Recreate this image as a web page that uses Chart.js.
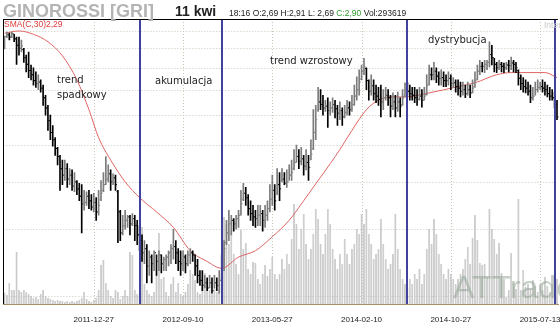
<!DOCTYPE html>
<html>
<head>
<meta charset="utf-8">
<script src="https://cdn.jsdelivr.net/npm/chart.js@4.4.1/dist/chart.umd.min.js"></script>
<style>
  html, body { margin: 0; padding: 0; background: #fff; overflow: hidden; }
  #wrap { position: relative; width: 560px; height: 322px; }
</style>
</head>
<body>
<div id="wrap"><canvas id="chart"></canvas></div>
<script>
// weekly bars, first one = 11 kwi 2011
const opens = [
  2.69, 2.90, 2.93, 2.89, 2.95, 2.86, 2.75, 2.70, 2.68, 2.55,
  2.45, 2.36, 2.30, 2.22, 2.18, 2.20, 2.12, 2.00, 1.88, 1.74,
  1.62, 1.55, 1.47, 1.40, 1.30, 1.25, 1.30, 1.22, 1.25, 1.17,
  1.20, 1.15, 1.10, 1.05, 1.06, 1.10, 1.07, 1.03, 1.06, 1.00,
  1.08, 1.14, 1.18, 1.22, 1.26, 1.20, 1.23, 1.13, 1.00, 0.88,
  0.92, 0.95, 0.97, 0.93, 0.96, 0.92, 0.87, 0.84, 0.78, 0.80,
  0.72, 0.76, 0.73, 0.78, 0.74, 0.77, 0.73, 0.75, 0.76, 0.78,
  0.80, 0.81, 0.78, 0.74, 0.73, 0.76, 0.73, 0.77, 0.78, 0.77,
  0.72, 0.68, 0.66, 0.64, 0.65, 0.63, 0.65, 0.62, 0.65, 0.64,
  0.66, 0.73, 0.83, 0.88, 0.93, 0.95, 0.93, 0.96, 0.98, 1.08,
  1.12, 1.09, 1.02, 0.99, 0.97, 0.96, 0.98, 0.99, 0.95, 0.98,
  1.02, 1.08, 1.14, 1.12, 1.18, 1.21, 1.22, 1.19, 1.20, 1.25,
  1.30, 1.35, 1.40, 1.36, 1.38, 1.32, 1.35, 1.31, 1.47, 1.62,
  1.86, 1.95, 1.92, 1.88, 1.90, 1.85, 1.88, 1.92, 1.87, 1.82,
  1.85, 1.78, 1.83, 1.88, 1.86, 1.92, 2.02, 2.10, 2.24, 2.35,
  2.39, 2.22, 2.08, 2.15, 2.05, 2.02, 1.98, 1.95, 2.00, 2.03,
  2.00, 1.90, 1.95, 1.88, 1.95, 1.92, 2.02, 2.10, 2.08, 2.05,
  2.03, 2.00, 1.98, 2.02, 1.97, 2.04, 2.17, 2.30, 2.30, 2.35,
  2.28, 2.25, 2.26, 2.22, 2.22, 2.25, 2.18, 2.19, 2.14, 2.12,
  2.08, 2.10, 2.05, 2.10, 2.06, 2.14, 2.24, 2.35, 2.42, 2.42,
  2.45, 2.48, 2.60, 2.55, 2.45, 2.40, 2.45, 2.42, 2.40, 2.44,
  2.43, 2.47, 2.45, 2.36, 2.25, 2.18, 2.14, 2.12, 2.08, 2.00,
  2.02, 2.10, 2.13, 2.14, 2.12, 2.10, 2.05, 2.02, 2.00, 1.92
];
const highs = [
  2.91, 2.98, 2.96, 2.98, 2.94, 2.89, 2.89, 2.84, 2.70, 2.59,
  2.64, 2.44, 2.40, 2.34, 2.30, 2.23, 2.16, 2.03, 1.91, 1.80,
  1.69, 1.57, 1.48, 1.41, 1.37, 1.37, 1.34, 1.30, 1.29, 1.27,
  1.21, 1.19, 1.18, 1.14, 1.13, 1.14, 1.11, 1.12, 1.09, 1.14,
  1.21, 1.27, 1.40, 1.33, 1.29, 1.26, 1.25, 1.14, 1.01, 0.98,
  1.01, 0.98, 0.98, 0.99, 0.98, 0.95, 0.92, 0.87, 0.84, 0.82,
  0.79, 0.77, 0.79, 0.77, 0.79, 0.77, 0.76, 0.77, 0.79, 0.82,
  0.90, 0.84, 0.80, 0.79, 0.79, 0.77, 0.79, 0.80, 0.79, 0.77,
  0.75, 0.70, 0.70, 0.68, 0.67, 0.68, 0.67, 0.68, 0.67, 0.70,
  0.77, 0.84, 0.95, 1.01, 0.98, 0.96, 0.98, 1.01, 1.14, 1.19,
  1.16, 1.11, 1.07, 1.04, 1.01, 1.04, 1.04, 1.01, 1.04, 1.07,
  1.18, 1.25, 1.18, 1.30, 1.27, 1.30, 1.27, 1.29, 1.33, 1.37,
  1.46, 1.50, 1.46, 1.48, 1.41, 1.46, 1.41, 1.55, 1.86, 1.91,
  2.13, 2.10, 2.03, 1.97, 2.00, 1.95, 2.00, 1.97, 1.91, 1.95,
  1.88, 1.91, 1.97, 1.95, 2.03, 2.16, 2.27, 2.37, 2.44, 2.54,
  2.40, 2.23, 2.30, 2.23, 2.16, 2.13, 2.16, 2.10, 2.13, 2.10,
  2.03, 2.06, 2.03, 2.07, 2.00, 2.10, 2.19, 2.19, 2.16, 2.13,
  2.13, 2.10, 2.13, 2.10, 2.13, 2.30, 2.44, 2.40, 2.48, 2.40,
  2.34, 2.37, 2.34, 2.30, 2.34, 2.30, 2.26, 2.23, 2.23, 2.20,
  2.20, 2.16, 2.20, 2.16, 2.23, 2.34, 2.44, 2.51, 2.48, 2.51,
  2.51, 2.81, 2.75, 2.54, 2.48, 2.51, 2.48, 2.47, 2.48, 2.51,
  2.56, 2.51, 2.48, 2.37, 2.30, 2.26, 2.23, 2.20, 2.16, 2.13,
  2.20, 2.23, 2.20, 2.23, 2.20, 2.16, 2.13, 2.10, 2.07, 1.97
];
const lows = [
  2.69, 2.88, 2.84, 2.88, 2.81, 2.45, 2.59, 2.64, 2.48, 2.34,
  2.26, 2.23, 2.16, 2.13, 2.10, 2.07, 1.91, 1.80, 1.64, 1.55,
  1.49, 1.41, 1.33, 1.14, 1.18, 1.21, 1.16, 1.18, 1.14, 1.13,
  1.11, 1.07, 0.88, 1.01, 1.04, 1.02, 1.01, 1.00, 0.95, 0.98,
  1.07, 1.13, 1.18, 1.20, 1.14, 1.18, 1.14, 0.83, 0.84, 0.87,
  0.90, 0.91, 0.87, 0.92, 0.84, 0.82, 0.79, 0.74, 0.73, 0.65,
  0.68, 0.65, 0.70, 0.68, 0.70, 0.69, 0.70, 0.70, 0.72, 0.73,
  0.75, 0.73, 0.70, 0.68, 0.70, 0.69, 0.72, 0.73, 0.74, 0.68,
  0.65, 0.64, 0.62, 0.63, 0.62, 0.63, 0.61, 0.63, 0.62, 0.61,
  0.66, 0.70, 0.82, 0.84, 0.87, 0.89, 0.90, 0.91, 0.98, 1.07,
  1.04, 0.98, 0.95, 0.92, 0.91, 0.92, 0.92, 0.89, 0.91, 0.95,
  1.00, 1.04, 1.01, 1.11, 1.07, 1.20, 1.18, 1.16, 1.21, 1.21,
  1.29, 1.35, 1.30, 1.33, 1.25, 1.29, 1.21, 1.37, 1.46, 1.55,
  1.84, 1.86, 1.80, 1.84, 1.67, 1.80, 1.83, 1.77, 1.69, 1.75,
  1.69, 1.77, 1.80, 1.80, 1.84, 1.91, 1.97, 2.03, 2.23, 2.30,
  2.10, 1.97, 2.03, 1.97, 1.94, 1.91, 1.78, 1.86, 1.97, 1.91,
  1.78, 1.86, 1.78, 1.84, 1.78, 1.91, 2.01, 2.03, 1.97, 1.97,
  1.94, 1.91, 1.97, 1.89, 1.97, 2.03, 2.16, 2.23, 2.23, 2.19,
  2.16, 2.16, 2.14, 2.14, 2.16, 2.10, 2.13, 2.07, 2.03, 2.01,
  2.03, 2.00, 2.03, 2.00, 2.06, 2.13, 2.23, 2.30, 2.34, 2.33,
  2.37, 2.41, 2.44, 2.34, 2.33, 2.37, 2.34, 2.33, 2.37, 2.34,
  2.37, 2.34, 2.33, 2.16, 2.10, 2.07, 2.06, 2.03, 1.94, 1.97,
  2.03, 2.07, 2.10, 2.07, 2.03, 2.01, 1.97, 1.97, 1.88, 1.75
];
const closes = [
  2.90, 2.93, 2.89, 2.95, 2.86, 2.75, 2.70, 2.74, 2.55, 2.45,
  2.36, 2.30, 2.22, 2.18, 2.20, 2.12, 2.00, 1.88, 1.74, 1.62,
  1.55, 1.47, 1.40, 1.30, 1.25, 1.30, 1.22, 1.25, 1.17, 1.20,
  1.15, 1.10, 1.05, 1.06, 1.10, 1.07, 1.03, 1.06, 1.00, 1.04,
  1.12, 1.18, 1.22, 1.26, 1.20, 1.23, 1.18, 1.00, 0.88, 0.92,
  0.95, 0.97, 0.93, 0.96, 0.92, 0.87, 0.84, 0.78, 0.80, 0.72,
  0.76, 0.73, 0.78, 0.74, 0.77, 0.73, 0.75, 0.76, 0.78, 0.80,
  0.81, 0.78, 0.74, 0.73, 0.76, 0.73, 0.77, 0.78, 0.77, 0.72,
  0.68, 0.66, 0.64, 0.65, 0.63, 0.65, 0.62, 0.65, 0.64, 0.66,
  0.73, 0.80, 0.88, 0.93, 0.95, 0.93, 0.96, 0.98, 1.05, 1.12,
  1.09, 1.02, 0.99, 0.97, 0.96, 0.98, 0.99, 0.95, 0.98, 1.02,
  1.08, 1.14, 1.07, 1.18, 1.15, 1.22, 1.19, 1.20, 1.25, 1.27,
  1.35, 1.40, 1.36, 1.38, 1.32, 1.35, 1.31, 1.42, 1.62, 1.75,
  1.95, 1.92, 1.88, 1.90, 1.85, 1.88, 1.92, 1.87, 1.82, 1.85,
  1.78, 1.83, 1.88, 1.86, 1.92, 2.02, 2.10, 2.20, 2.35, 2.42,
  2.22, 2.08, 2.15, 2.05, 2.02, 1.98, 1.95, 2.00, 2.03, 2.00,
  1.90, 1.95, 1.88, 1.95, 1.90, 2.00, 2.10, 2.08, 2.05, 2.03,
  2.00, 1.98, 2.02, 1.97, 2.02, 2.15, 2.30, 2.30, 2.35, 2.28,
  2.25, 2.26, 2.22, 2.22, 2.25, 2.18, 2.19, 2.14, 2.12, 2.08,
  2.10, 2.05, 2.10, 2.06, 2.12, 2.22, 2.35, 2.42, 2.42, 2.45,
  2.48, 2.60, 2.55, 2.45, 2.40, 2.45, 2.42, 2.40, 2.44, 2.43,
  2.47, 2.45, 2.40, 2.25, 2.18, 2.14, 2.12, 2.08, 2.00, 2.02,
  2.10, 2.13, 2.14, 2.12, 2.10, 2.05, 2.02, 2.00, 1.92, 1.78
];
// volume, thousands of shares
const volumes = [
  294, 243, 567, 378, 378, 1404, 378, 324, 378, 324,
  270, 216, 162, 189, 135, 270, 378, 216, 162, 135,
  108, 81, 108, 81, 81, 54, 81, 54, 81, 54,
  81, 108, 162, 324, 135, 81, 54, 108, 162, 378,
  1053, 1188, 567, 378, 216, 162, 378, 324, 135, 216,
  378, 216, 1404, 1323, 378, 270, 216, 2079, 540, 378,
  270, 216, 324, 810, 1917, 675, 729, 324, 216, 540,
  729, 324, 567, 270, 216, 324, 540, 918, 810, 648,
  324, 270, 540, 837, 675, 378, 270, 432, 324, 378,
  810, 2349, 2160, 1620, 1998, 1350, 1080, 810, 1998, 1485,
  1647, 945, 810, 1134, 1107, 675, 540, 810, 1053, 756,
  945, 1269, 810, 675, 810, 1215, 945, 1350, 1080, 1755,
  2700, 2160, 1485, 2025, 2430, 1620, 1215, 1485, 1890, 2565,
  2295, 1620, 1350, 1890, 2565, 2160, 1485, 1215, 945, 1350,
  1080, 1755, 1350, 1080, 1485, 1620, 2025, 1890, 2430, 2160,
  2565, 1890, 1620, 1215, 1350, 1485, 2295, 1620, 1215, 945,
  1080, 1350, 2430, 1485, 945, 675, 540, 405, 675, 540,
  810, 675, 945, 540, 810, 1485, 2025, 1620, 2295, 1890,
  1350, 1080, 810, 675, 945, 810, 675, 540, 675, 810,
  945, 1215, 1539, 1080, 1782, 2403, 1728, 1107, 1053, 1080,
  729, 2565, 2025, 1755, 1350, 1647, 837, 675, 189, 378,
  1377, 567, 405, 2835, 378, 918, 459, 540, 405, 648,
  486, 324, 540, 378, 729, 486, 324, 540, 837, 675
];
// SMA(C,30) read at some bars
const smaIdx = [0, 6, 12, 18, 24, 30, 35, 39, 44, 50, 56, 63, 70, 77, 84, 90, 97, 104, 111, 118,
  124, 130, 135, 139, 144, 150, 155, 160, 166, 176, 188, 195, 204, 210, 217, 224, 229];
const smaVal = [2.96, 3.00, 2.94, 2.81, 2.58, 2.23, 1.86, 1.57, 1.37, 1.20, 1.09, 1.00, 0.91, 0.79, 0.74, 0.71, 0.76, 0.79, 0.86, 0.95,
  1.07, 1.21, 1.34, 1.46, 1.64, 1.86, 1.97, 2.01, 2.01, 2.06, 2.14, 2.19, 2.30, 2.33, 2.33, 2.33, 2.26];

const tickIdx = [37, 74, 111, 148, 185, 222];
const tickLabels = ['2011-12-27', '2012-09-10', '2013-05-27', '2014-02-10', '2014-10-27', '2015-07-13'];
const gridPrices = [0.6, 0.9, 1.2, 1.5, 1.8, 2.1, 2.4, 2.7, 3.0];
const phaseIdx = [56, 90, 167, 228];

const notes = [
  { text: 'trend', x: 57, y: 83 },
  { text: 'spadkowy', x: 57, y: 98 },
  { text: 'akumulacja', x: 155, y: 84 },
  { text: 'trend wzrostowy', x: 270, y: 64 },
  { text: 'dystrybucja', x: 428, y: 43 }
];

const upColor = '#7c7c7c';
const downColor = '#000000';
const gridColor = '#c9c9b8';

const labels = closes.map((c, i) => i);
const smaSeries = closes.map(() => null);
smaIdx.forEach((k, j) => { smaSeries[k] = smaVal[j]; });
const barColors = closes.map((c, i) => c > opens[i] ? upColor : downColor);

const decorations = {
  id: 'decorations',
  beforeDatasetsDraw(chart) {
    const { ctx, chartArea: a, scales: { x, y } } = chart;
    ctx.save();
    ctx.strokeStyle = gridColor;
    ctx.lineWidth = 1;
    ctx.setLineDash([1, 2]);
    ctx.beginPath();
    gridPrices.forEach(v => {
      const py = Math.round(y.getPixelForValue(v)) + 0.5;
      ctx.moveTo(a.left, py);
      ctx.lineTo(a.right, py);
    });
    tickIdx.forEach(k => {
      const px = Math.round(x.getPixelForValue(k)) + 0.5;
      ctx.moveTo(px, a.top);
      ctx.lineTo(px, a.bottom);
    });
    ctx.stroke();
    ctx.restore();
  },
  afterDatasetsDraw(chart) {
    const { ctx, chartArea: a, scales: { x, y } } = chart;
    ctx.save();
    // open / close ticks
    for (let i = 0; i < closes.length; i++) {
      const cx = x.getPixelForValue(i);
      ctx.fillStyle = barColors[i];
      ctx.fillRect(cx - 1.5, y.getPixelForValue(opens[i]) - 0.5, 1, 1);
      ctx.fillRect(cx + 0.5, y.getPixelForValue(closes[i]) - 0.5, 1, 1);
    }
    // phase separators
    ctx.fillStyle = '#42429c';
    phaseIdx.forEach(k => {
      const cx = Math.round(x.getPixelForValue(k));
      ctx.fillRect(cx - 1, a.top, 2, a.bottom - a.top);
    });
    // watermark
    ctx.font = '32px "Liberation Sans"';
    ctx.fillStyle = 'rgba(140,160,140,0.5)';
    ctx.textBaseline = 'alphabetic';
    ctx.fillText('ATTrader', 453, 298);
    ctx.restore();
  },
  afterDraw(chart) {
    const { ctx, chartArea: a } = chart;
    ctx.save();
    // frame
    ctx.fillStyle = '#000';
    ctx.fillRect(Math.floor(a.left), a.top, 1, a.bottom - a.top);
    ctx.fillRect(Math.floor(a.left), a.top, a.right - a.left, 1);

    ctx.textBaseline = 'alphabetic';
    // header
    ctx.font = 'bold 18px "Liberation Sans"';
    ctx.fillStyle = '#b4b4b4';
    ctx.fillText('GINOROSSI [GRI]', 3, 17);
    ctx.font = 'bold 14px "Liberation Sans"';
    ctx.fillStyle = '#222';
    ctx.fillText('11 kwi', 175, 16);

    ctx.font = '8.5px "Liberation Sans"';
    const parts = [
      ['18:16 O:2,69 H:2,91 L: 2,69 ', '#222'],
      ['C:2,90', '#2f9a2f'],
      [' Vol:293619', '#222']
    ];
    let px = 229;
    parts.forEach(([t, c]) => {
      ctx.fillStyle = c;
      ctx.fillText(t, px, 16);
      px += ctx.measureText(t).width;
    });

    ctx.fillStyle = '#e03a3a';
    ctx.fillText('SMA(C,30)2,29', 4, 27);
    ctx.fillStyle = '#c8c8c8';
    ctx.fillText('Interwał', 544, 28);

    // phase notes
    ctx.font = '10px "DejaVu Sans"';
    ctx.fillStyle = '#222';
    notes.forEach(n => ctx.fillText(n.text, n.x, n.y));
    ctx.restore();
  }
};

new Chart(document.getElementById('chart'), {
  type: 'bar',
  data: {
    labels: labels,
    datasets: [
      {
        type: 'bar',
        data: lows.map((l, i) => [l, highs[i]]),
        backgroundColor: barColors,
        barThickness: 1,
        grouped: false,
        yAxisID: 'y',
        order: 1
      },
      {
        type: 'line',
        data: smaSeries,
        borderColor: '#e06464',
        borderWidth: 1,
        pointRadius: 0,
        spanGaps: true,
        cubicInterpolationMode: 'monotone',
        yAxisID: 'y',
        order: 2
      },
      {
        type: 'bar',
        data: volumes,
        backgroundColor: '#c6c6c6',
        borderColor: '#adadad',
        borderWidth: { left: 0.5, right: 0.5, top: 0, bottom: 0 },
        barPercentage: 0.8,
        categoryPercentage: 1,
        grouped: false,
        yAxisID: 'y2',
        order: 3
      }
    ]
  },
  options: {
    responsive: true,
    maintainAspectRatio: false,
    animation: false,
    layout: { padding: { left: 3.3, right: 0, top: 19, bottom: 0 } },
    plugins: { legend: { display: false }, tooltip: { enabled: false } },
    scales: {
      x: {
        type: 'category',
        offset: true,
        grid: { display: false },
        border: { display: true, color: '#a68e68', width: 1 },
        ticks: {
          autoSkip: false,
          maxRotation: 0,
          padding: 3,
          color: '#222',
          font: { family: 'Liberation Sans', size: 8 },
          callback: (v, i) => {
            const k = tickIdx.indexOf(i);
            return k < 0 ? '' : tickLabels[k];
          }
        },
        afterFit: s => { s.height = 18; }
      },
      y: {
        type: 'logarithmic',
        position: 'right',
        min: 0.5716,
        max: 3.226,
        ticks: { display: false },
        grid: { display: false },
        border: { display: false },
        afterFit: s => { s.width = 0; }
      },
      y2: {
        type: 'linear',
        display: false,
        min: 0,
        max: 7700
      }
    }
  },
  plugins: [decorations]
});
</script>
</body>
</html>
